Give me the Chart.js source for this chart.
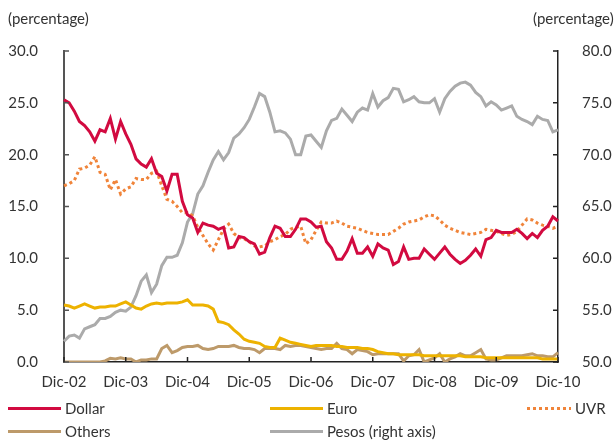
<!DOCTYPE html>
<html>
<head>
<meta charset="utf-8">
<script src="https://cdn.jsdelivr.net/npm/chart.js@4.4.1/dist/chart.umd.min.js"></script>
<style>
body{margin:0;background:#fff;font-family:Lato,sans-serif;color:#333}
#wrap{position:relative;width:614px;height:440px}
.unit{position:absolute;top:8px;font-size:15px;line-height:20px}
.item{position:absolute;font-size:15px;line-height:20px;height:20px}
.swatch{position:absolute;top:9px;height:3px}
.txt{position:absolute;top:0;white-space:nowrap}
</style>
</head>
<body>
<div id="wrap">
  <canvas id="chart" width="614" height="440"></canvas>
  <div class="unit" style="left:8px">(percentage)</div>
  <div class="unit" style="left:533px">(percentage)</div>
  <div id="legend"></div>
</div>
<script>
// months, Dic-02 .. Dic-10
const monthNames = ["Ene","Feb","Mar","Abr","May","Jun","Jul","Ago","Sep","Oct","Nov","Dic"];
const labels = [];
for(let y=2002, m=11; y<2011; m++){
    if(m>11){m=0;y++;}
    if(y===2011) break;
    labels.push(monthNames[m]+"-"+String(y).slice(2));
    if(y===2010 && m===11) break;
}
const leftTicks = [0,5,10,15,20,25,30];
const rightTicks = [50,55,60,65,70,75,80];

const dollar = [25.3,25.0,24.2,23.2,22.8,22.2,21.3,22.4,22.2,23.5,21.5,23.2,22.0,21.0,19.6,19.1,
    18.8,19.6,18.2,17.9,16.5,18.1,18.1,15.5,14.2,13.9,12.5,13.4,13.2,13.1,12.8,13.0,
    11.0,11.1,12.1,12.0,11.6,11.4,10.4,10.6,12.0,13.1,12.9,12.1,12.1,12.8,13.8,13.8,
    13.5,13.0,13.1,11.6,11.0,9.9,9.9,10.7,11.9,10.5,10.5,11.1,10.2,11.4,11.0,10.8,
    9.4,9.7,11.1,9.9,10.0,10.0,10.9,10.4,9.9,10.5,11.1,10.4,9.9,9.5,9.8,10.3,
    10.9,10.2,11.8,12.0,12.7,12.5,12.5,12.5,12.8,12.4,11.9,12.4,12.0,12.7,13.1,14.0,13.6];
const euro = [5.5,5.4,5.2,5.4,5.6,5.4,5.2,5.3,5.3,5.4,5.4,5.6,5.8,5.5,5.2,5.1,
    5.4,5.6,5.7,5.6,5.7,5.7,5.7,5.8,6.0,5.5,5.5,5.5,5.4,5.1,3.9,3.8,
    3.6,3.1,2.7,2.2,2.0,1.9,1.8,1.5,1.4,1.4,2.3,2.1,1.9,1.8,1.7,1.6,
    1.5,1.6,1.6,1.6,1.6,1.5,1.5,1.4,1.4,1.4,1.3,1.3,1.2,1.0,0.9,0.8,
    0.8,0.7,0.7,0.7,0.7,0.7,0.6,0.6,0.6,0.6,0.6,0.6,0.6,0.6,0.5,0.5,
    0.5,0.5,0.4,0.4,0.4,0.4,0.4,0.4,0.4,0.4,0.4,0.4,0.4,0.3,0.3,0.3,0.3];
const uvr = [17.0,17.2,17.5,18.6,18.7,19.0,19.8,18.3,18.1,16.6,17.6,16.2,16.7,16.9,17.7,17.6,
    17.6,18.2,18.4,17.0,15.7,15.5,15.0,14.4,14.4,14.1,13.0,12.2,11.4,10.8,11.8,12.8,
    13.3,12.4,12.0,11.9,11.6,11.2,11.1,11.2,11.6,11.8,12.1,12.3,12.8,13.0,13.1,11.4,
    11.8,12.7,13.5,13.4,13.4,13.6,13.4,13.1,13.0,12.9,12.7,12.5,12.4,12.3,12.3,12.3,
    12.6,12.9,13.3,13.5,13.6,13.7,14.0,14.2,14.1,13.7,13.2,12.9,12.7,12.5,12.4,12.3,
    12.4,12.5,12.8,12.7,12.6,12.4,12.2,12.3,12.6,13.2,13.8,13.7,13.4,13.2,13.1,12.9,13.1];
const others = [0.0,0.0,0.0,0.0,0.0,0.0,0.0,0.0,0.1,0.35,0.3,0.4,0.3,0.3,0.0,0.2,
    0.2,0.3,0.3,1.3,1.6,0.9,1.1,1.4,1.5,1.5,1.6,1.3,1.2,1.3,1.5,1.5,
    1.5,1.6,1.4,1.3,1.3,1.2,0.9,1.3,1.3,1.3,1.2,1.6,1.5,1.6,1.6,1.5,
    1.4,1.3,1.2,1.3,1.3,1.8,1.3,1.2,0.8,1.2,1.1,1.0,0.7,0.8,0.8,0.8,
    0.8,0.8,0.1,0.6,0.7,1.2,0.0,0.2,0.4,0.8,0.0,0.3,0.5,0.8,0.6,0.6,
    0.9,1.2,0.3,0.2,0.2,0.4,0.6,0.6,0.6,0.6,0.7,0.8,0.6,0.6,0.5,0.5,0.9];
// right axis
const pesos = [52.0,52.5,52.6,52.3,53.2,53.4,53.6,54.2,54.2,54.4,54.8,55.0,54.9,55.3,56.4,57.8,
    58.4,56.7,57.5,59.3,60.1,60.1,60.3,61.5,63.5,64.3,66.2,67.0,68.3,69.5,70.3,69.5,
    70.2,71.6,72.0,72.6,73.4,74.6,75.9,75.6,74.1,72.2,72.3,72.1,71.5,70.0,70.0,71.8,
    71.9,71.3,70.7,72.3,73.3,73.5,74.4,73.8,73.2,74.1,74.5,74.3,75.9,74.6,75.2,75.5,
    76.4,76.3,75.1,75.3,75.6,75.1,75.0,75.0,75.4,74.1,75.4,76.1,76.6,76.9,77.0,76.7,
    76.0,75.6,74.7,75.1,74.8,74.3,74.5,74.7,73.7,73.4,73.2,72.9,73.7,73.4,73.3,72.2,72.4];

const colors = {dollar:"#D20A40", euro:"#EDB200", uvr:"#F0843A", others:"#BD9A6A", pesos:"#ABABAB"};
const font = {family:"Lato", size:15};

// ticks drawn inside the plot
const innerTicks = {
    id:"innerTicks",
    afterDraw(chart){
        const ctx = chart.ctx, a = chart.chartArea, s = chart.scales;
        ctx.save();
        ctx.lineWidth = 1.5;
        ctx.strokeStyle = "#555";
        ctx.beginPath();
        s.y.ticks.forEach(t=>{ const p = s.y.getPixelForValue(t.value); ctx.moveTo(a.left, p); ctx.lineTo(a.left+5, p); });
        ctx.stroke();
        ctx.strokeStyle = "#222";
        ctx.beginPath();
        s.y2.ticks.forEach(t=>{ const p = s.y2.getPixelForValue(t.value); ctx.moveTo(a.right, p); ctx.lineTo(a.right-5, p); });
        s.x.ticks.forEach(t=>{
            if(t.value%12===0){ const p = s.x.getPixelForValue(t.value); ctx.moveTo(p, a.bottom); ctx.lineTo(p, a.bottom-5); }
        });
        ctx.stroke();
        ctx.restore();
    }
};

const chart = new Chart(document.getElementById("chart"), {
    type:"line",
    data:{
        labels:labels,
        datasets:[
            {label:"Dollar", data:dollar, borderColor:colors.dollar, yAxisID:"y"},
            {label:"Euro", data:euro, borderColor:colors.euro, yAxisID:"y"},
            {label:"UVR", data:uvr, borderColor:colors.uvr, borderDash:[3,3], yAxisID:"y"},
            {label:"Others", data:others, borderColor:colors.others, yAxisID:"y"},
            {label:"Pesos (right axis)", data:pesos, borderColor:colors.pesos, yAxisID:"y2"}
        ]
    },
    options:{
        responsive:false,
        animation:false,
        layout:{padding:{top:51, left:0, right:0, bottom:0}},
        elements:{point:{radius:0}, line:{tension:0, borderWidth:3, borderCapStyle:"butt"}},
        plugins:{legend:{display:false}, tooltip:{enabled:false}},
        scales:{
            x:{
                grid:{display:false, drawTicks:false},
                border:{color:"#222", width:1.5},
                ticks:{autoSkip:false, maxRotation:0, padding:11, font:font, color:"#333",
                    callback:(v,i)=> i%12===0 ? labels[i] : ""},
                afterFit:s=>{ s.height = 78; }
            },
            y:{
                position:"left", min:0, max:30,
                grid:{display:false, drawTicks:false},
                border:{color:"#555", width:2},
                afterBuildTicks:s=>{ s.ticks = leftTicks.map(v=>({value:v})); },
                ticks:{padding:26, font:font, color:"#333", callback:v=>v.toFixed(1)},
                afterFit:s=>{ s.width = 64; }
            },
            y2:{
                position:"right", min:50, max:80,
                grid:{display:false, drawTicks:false},
                border:{color:"#222", width:1.5},
                afterBuildTicks:s=>{ s.ticks = rightTicks.map(v=>({value:v})); },
                ticks:{padding:24, font:font, color:"#333", callback:v=>v.toFixed(1)},
                afterFit:s=>{ s.width = 56; }
            }
        }
    },
    plugins:[innerTicks]
});

// legend, 3 columns x 2 rows
const legendPos = [[8,398],[270,398],[527,398],[8,421],[270,421]];
const legend = document.getElementById("legend");
chart.data.datasets.forEach((ds,i)=>{
    const [x,y] = legendPos[i];
    const item = document.createElement("div");
    item.className = "item";
    item.style.left = x+"px";
    item.style.top = y+"px";
    const sw = document.createElement("div");
    sw.className = "swatch";
    const w = ds.borderDash ? 44 : 53;
    sw.style.width = w+"px";
    sw.style.background = ds.borderDash
        ? "repeating-linear-gradient(90deg,"+ds.borderColor+" 0 3px,transparent 3px 6px)"
        : ds.borderColor;
    const tx = document.createElement("div");
    tx.className = "txt";
    tx.style.left = (w+4)+"px";
    tx.textContent = ds.label;
    item.appendChild(sw);
    item.appendChild(tx);
    legend.appendChild(item);
});
</script>
</body>
</html>
